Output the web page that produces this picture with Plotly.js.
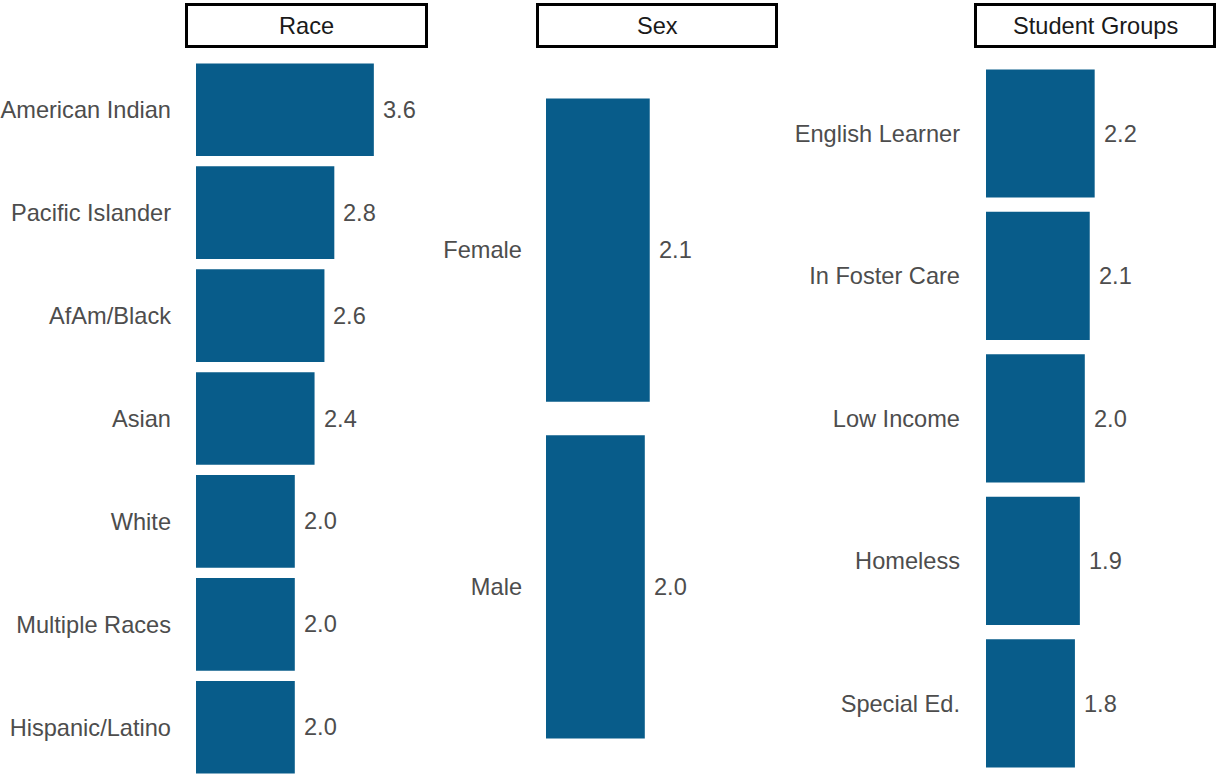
<!DOCTYPE html>
<html>
<head>
<meta charset="utf-8">
<script src="https://cdn.plot.ly/plotly-3.0.1.min.js"></script>
<style>
  html, body { margin: 0; padding: 0; background: #ffffff; }
  #chart { width: 1216px; height: 775px; }
</style>
</head>
<body>
<div id="chart"></div>
<script>
// Rates by group, one facet per grouping
const raceLabels = ['American Indian', 'Pacific Islander', 'AfAm/Black', 'Asian', 'White', 'Multiple Races', 'Hispanic/Latino'];
const raceValues = [3.6, 2.8, 2.6, 2.4, 2.0, 2.0, 2.0];

const sexLabels = ['Female', 'Male'];
const sexValues = [2.1, 2.0];

const groupLabels = ['English Learner', 'In Foster Care', 'Low Income', 'Homeless', 'Special Ed.'];
const groupValues = [2.2, 2.1, 2.0, 1.9, 1.8];

const panelTitles = ['Race', 'Sex', 'Student Groups'];

// ---- layout constants ----
const W = 1216, H = 775;
const TOP = 48;                 // top of plotting area (strip sits above)
const FULL_H = 741;             // height of the full panel; the bottom is cut by the page edge
const PX_PER_UNIT = 49.4;
const BAR_COLOR = '#085c8a';
const FONT = 'Liberation Sans, Arial, sans-serif';
const FONT_SIZE = 23.6;
const LABEL_COLOR = '#4d4d4d';

// panel left edge, bar baseline, panel right edge (pixels)
const panels = [
  { left: 185, zero: 196, right: 428 },
  { left: 536, zero: 546, right: 778 },
  { left: 974, zero: 986, right: 1216 }
];

const sets = [
  { labels: raceLabels, values: raceValues },
  { labels: sexLabels, values: sexValues },
  { labels: groupLabels, values: groupValues }
];

const visibleFrac = (H - TOP) / FULL_H;

const traces = [];
const layout = {
  width: W, height: H,
  margin: { l: 0, r: 0, t: TOP, b: 0, pad: 0 },
  paper_bgcolor: '#ffffff',
  plot_bgcolor: '#ffffff',
  showlegend: false,
  font: { family: FONT, size: FONT_SIZE, color: LABEL_COLOR },
  bargap: 0.1,
  shapes: [],
  annotations: []
};

sets.forEach((s, i) => {
  const n = i === 0 ? '' : String(i + 1);
  const xa = 'x' + n, ya = 'y' + n;
  const p = panels[i];

  traces.push({
    type: 'bar',
    orientation: 'h',
    x: s.values,
    y: s.labels,
    xaxis: xa, yaxis: ya,
    marker: { color: BAR_COLOR, line: { width: 0 } },
    width: 0.9,
    hoverinfo: 'skip'
  });

  const nCat = s.labels.length;
  const span = nCat - 1 + 1.2;
  const yBottom = -0.6 + span * visibleFrac;

  layout['xaxis' + n] = {
    domain: [p.left / W, Math.min(p.right / W, 1)],
    range: [-(p.zero - p.left) / PX_PER_UNIT, (p.right - p.zero) / PX_PER_UNIT],
    anchor: ya,
    showgrid: false, zeroline: false, showline: false,
    showticklabels: false, ticks: '', fixedrange: true
  };
  layout['yaxis' + n] = {
    domain: [0, 1],
    anchor: xa,
    type: 'category',
    categoryorder: 'array',
    categoryarray: s.labels,
    range: [yBottom, -0.6],
    showgrid: false, zeroline: false, showline: false,
    ticks: '',
    ticklabelstandoff: 13,
    tickfont: { family: FONT, size: FONT_SIZE, color: LABEL_COLOR },
    fixedrange: true
  };

  // value labels beside each bar
  s.values.forEach((v, k) => {
    layout.annotations.push({
      xref: xa, yref: ya,
      x: v, y: s.labels[k],
      text: v.toFixed(1),
      showarrow: false,
      xanchor: 'left', yanchor: 'middle',
      xshift: 7,
      font: { family: FONT, size: FONT_SIZE, color: LABEL_COLOR }
    });
  });

  // facet strip: white box with black outline and the panel name
  const plotH = H - TOP;
  layout.shapes.push({
    type: 'rect',
    xref: xa + ' domain', yref: ya + ' domain',
    x0: 1.5 / (p.right - p.left), x1: 1 - 1.5 / (p.right - p.left),
    y0: 1 + 1.5 / plotH, y1: 1 + 43.5 / plotH,
    fillcolor: '#ffffff',
    line: { color: '#000000', width: 3 }
  });
  layout.annotations.push({
    xref: xa + ' domain', yref: ya + ' domain',
    x: 0.5, y: 1 + 22.5 / plotH,
    text: panelTitles[i],
    showarrow: false,
    xanchor: 'center', yanchor: 'middle',
    font: { family: FONT, size: FONT_SIZE, color: '#1a1a1a' }
  });
});

Plotly.newPlot('chart', traces, layout, { displayModeBar: false, staticPlot: true });
</script>
</body>
</html>
